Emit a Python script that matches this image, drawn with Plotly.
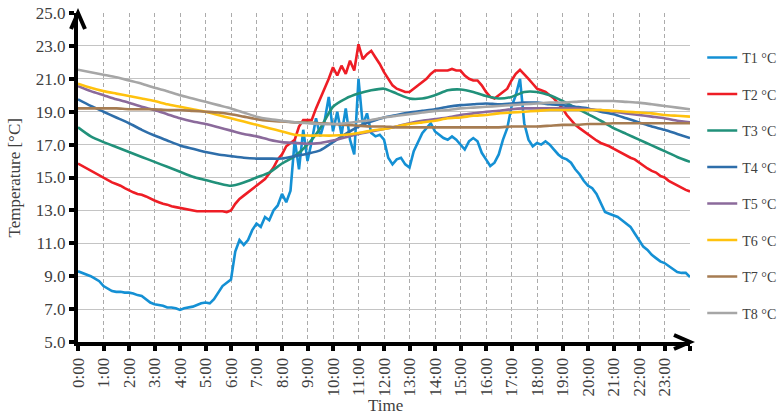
import plotly.graph_objects as go

# ---- data -------------------------------------------------------------
# T1 and T2 logged every 10 minutes, T3..T8 every 30 minutes (hours of day)
t_fine = [i / 6 for i in range(145)]
t_half = [i / 2 for i in range(49)]

T1 = [
    9.3, 9.2, 9.1, 9.0, 8.85, 8.7,
    8.4, 8.25, 8.1, 8.05, 8.05, 8.0,
    8.0, 7.95, 7.85, 7.8, 7.6, 7.4,
    7.3, 7.25, 7.2, 7.1, 7.1, 7.05,
    6.95, 7.05, 7.1, 7.15, 7.25, 7.35,
    7.4, 7.35, 7.6, 8.0, 8.4, 8.6,
    8.8, 10.5, 11.2, 10.9, 11.2, 11.8,
    12.2, 12.0, 12.6, 12.4, 13.0, 13.3,
    14.0, 13.5, 14.2, 17.3, 15.5, 17.9,
    16.0, 17.2, 18.6, 17.5, 18.4, 19.9,
    17.8, 19.0, 17.6, 19.2, 17.3, 16.4,
    21.0, 18.2, 18.9, 17.7, 17.5, 17.6,
    17.3, 16.2, 15.8, 16.1, 16.2, 15.8,
    15.6, 16.6, 17.2, 17.7, 18.0, 18.3,
    17.8, 17.6, 17.4, 17.3, 17.5, 17.3,
    17.0, 16.7, 17.2, 17.4, 17.2, 16.5,
    16.1, 15.7, 15.9, 16.4, 17.3, 18.0,
    19.3, 20.0, 21.0, 18.3, 17.3, 16.9,
    17.1, 17.0, 17.2, 17.0, 16.7, 16.4,
    16.2, 16.1, 15.9, 15.5, 15.2, 14.8,
    14.5, 14.35, 14.0, 13.4, 12.9, 12.8,
    12.7, 12.6, 12.4, 12.2, 12.0, 11.6,
    11.2, 10.8, 10.6, 10.3, 10.1, 9.9,
    9.8, 9.6, 9.4, 9.25, 9.2, 9.2,
    8.95,
]

T2 = [
    15.85, 15.7, 15.55, 15.45, 15.3, 15.15,
    15.0, 14.85, 14.7, 14.6, 14.5, 14.35,
    14.2, 14.1, 14.0, 13.95, 13.85, 13.7,
    13.6, 13.5, 13.4, 13.35, 13.25, 13.2,
    13.15, 13.1, 13.05, 13.0, 12.95, 12.95,
    12.95, 12.95, 12.95, 12.95, 12.95, 12.9,
    13.0, 13.4, 13.7, 13.9, 14.1, 14.3,
    14.5, 14.65, 14.9, 15.25, 15.6, 16.1,
    16.4, 16.9, 17.1, 17.3, 18.1, 18.5,
    18.5, 18.5, 19.2, 19.8, 20.3, 21.0,
    21.7, 21.2, 21.8, 21.3, 22.1, 21.5,
    23.1, 22.2, 22.5, 22.7, 22.3, 21.9,
    21.4, 21.0, 20.6, 20.4, 20.3, 20.2,
    20.2, 20.4, 20.6, 20.8, 21.0, 21.3,
    21.5, 21.5, 21.5, 21.5, 21.6, 21.5,
    21.5, 21.2, 21.0, 20.9, 20.9, 20.6,
    20.2, 19.9, 19.8, 20.0, 20.2, 20.4,
    20.9, 21.3, 21.55, 21.3, 21.0, 20.7,
    20.4, 20.3, 20.2, 20.0, 19.8, 19.5,
    19.2, 18.8, 18.5, 18.2, 18.0, 17.8,
    17.65, 17.4, 17.25, 17.1, 17.0, 16.9,
    16.75, 16.6, 16.45, 16.3, 16.2, 16.1,
    15.9, 15.7, 15.55, 15.4, 15.3, 15.1,
    15.0, 14.8, 14.65, 14.5, 14.35, 14.25,
    14.15,
]

T3 = [18.05, 17.5, 17.15, 16.85, 16.55, 16.25, 15.95, 15.65, 15.35, 15.05,
      14.85, 14.65, 14.5, 14.7, 15.0, 15.3, 15.85, 16.3, 17.0, 18.0,
      19.3, 19.8, 20.1, 20.3, 20.4, 20.1, 19.8, 19.8, 20.0, 20.3,
      20.35, 20.2, 19.95, 19.8, 19.9, 20.2, 20.2, 20.0, 19.65, 19.25,
      18.85, 18.45, 18.0, 17.65, 17.3, 16.95, 16.6, 16.25, 15.95]

T4 = [19.75, 19.35, 19.0, 18.65, 18.3, 17.9, 17.55, 17.25, 16.95, 16.75,
      16.55, 16.4, 16.3, 16.2, 16.15, 16.15, 16.15, 16.3, 16.45, 16.65,
      17.15, 17.65, 18.1, 18.4, 18.65, 18.8, 18.95, 19.05, 19.15, 19.3,
      19.4, 19.45, 19.5, 19.45, 19.5, 19.55, 19.55, 19.45, 19.4, 19.3,
      19.2, 19.0, 18.85, 18.6, 18.35, 18.1, 17.9, 17.65, 17.4]

T5 = [20.55, 20.25, 20.0, 19.75, 19.55, 19.3, 19.1, 18.85, 18.6, 18.4,
      18.25, 18.05, 17.85, 17.65, 17.5, 17.3, 17.15, 17.1, 17.05, 17.1,
      17.25, 17.45, 17.65, 17.8, 17.95, 18.1, 18.3, 18.45, 18.55, 18.65,
      18.8, 18.9, 19.0, 19.05, 19.15, 19.2, 19.2, 19.2, 19.2, 19.2,
      19.15, 19.1, 19.0, 18.9, 18.8, 18.7, 18.6, 18.45, 18.35]

T6 = [20.7, 20.45, 20.25, 20.1, 19.95, 19.8, 19.65, 19.45, 19.3, 19.15,
      19.0, 18.8, 18.6, 18.4, 18.2, 18.0, 17.8, 17.6, 17.55, 17.55,
      17.55, 17.6, 17.7, 17.85, 17.95, 18.1, 18.25, 18.35, 18.45, 18.6,
      18.65, 18.75, 18.8, 18.9, 18.95, 19.0, 19.05, 19.1, 19.1, 19.1,
      19.1, 19.1, 19.05, 19.0, 18.95, 18.9, 18.8, 18.75, 18.7]

T7 = [19.2, 19.2, 19.2, 19.2, 19.15, 19.15, 19.15, 19.1, 19.1, 19.05,
      19.0, 18.95, 18.85, 18.7, 18.55, 18.45, 18.4, 18.35, 18.35, 18.3,
      18.25, 18.2, 18.15, 18.1, 18.1, 18.05, 18.05, 18.05, 18.05, 18.05,
      18.05, 18.05, 18.05, 18.05, 18.1, 18.1, 18.1, 18.15, 18.2, 18.2,
      18.25, 18.25, 18.3, 18.3, 18.3, 18.3, 18.3, 18.3, 18.3]

T8 = [21.55, 21.4, 21.25, 21.1, 20.9, 20.7, 20.45, 20.25, 20.0, 19.8,
      19.6, 19.4, 19.2, 18.95, 18.7, 18.55, 18.45, 18.35, 18.3, 18.25,
      18.25, 18.3, 18.4, 18.5, 18.65, 18.75, 18.85, 18.95, 19.05, 19.1,
      19.2, 19.25, 19.3, 19.35, 19.4, 19.45, 19.5, 19.55, 19.55, 19.6,
      19.65, 19.65, 19.65, 19.6, 19.55, 19.45, 19.35, 19.25, 19.15]

series_names = ["T1 °C", "T2 °C", "T3 °C", "T4 °C", "T5 °C", "T6 °C", "T7 °C", "T8 °C"]
hour_ticks = list(range(25))
hour_labels = [f"{h}:00" for h in range(24)] + [""]
temp_ticks = [5, 7, 9, 11, 13, 15, 17, 19, 21, 23, 25]
temp_labels = [f"{v:.1f}" for v in temp_ticks]

# ---- styling ------------------------------------------------------------
colors = ["#1490D4", "#EE1D25", "#21917A", "#2E6EAA", "#8B6A9B", "#FFC20E", "#A67C52", "#A6A6A6"]
serif = "Liberation Serif, Times New Roman, serif"
text_col = "#404040"

fig = go.Figure()
all_series = [(t_fine, T1), (t_fine, T2), (t_half, T3), (t_half, T4),
              (t_half, T5), (t_half, T6), (t_half, T7), (t_half, T8)]
for i, ((tx, ty), name) in enumerate(zip(all_series, series_names)):
    smooth = tx is t_half
    fig.add_trace(go.Scatter(
        x=tx, y=ty, name=name, mode="lines", legendgroup=name,
        line=dict(color=colors[i], width=2.6,
                  shape="spline" if smooth else "linear",
                  **({"smoothing": 0.6} if smooth else {})),
    ))

fig.update_layout(
    width=782, height=418,
    margin=dict(l=78, r=92, t=13, b=76, autoexpand=False),
    paper_bgcolor="white", plot_bgcolor="white",
    font=dict(family=serif, size=17, color=text_col),
    showlegend=True,
    legend=dict(x=1.02, xanchor="left", y=0.912, yanchor="top",
                font=dict(family=serif, size=14, color=text_col),
                tracegroupgap=15.3, bgcolor="rgba(0,0,0,0)"),
    xaxis=dict(
        range=[0, 24], tickvals=hour_ticks, ticktext=hour_labels, tickangle=-90,
        showgrid=True, gridcolor="#ABABAB", gridwidth=1, griddash="4px,3px",
        showline=True, linecolor="black", linewidth=4,
        ticks="outside", ticklen=5, tickwidth=4, tickcolor="black",
        zeroline=False, automargin=False,
    ),
    yaxis=dict(
        range=[5, 25], tickvals=temp_ticks, ticktext=temp_labels,
        showgrid=True, gridcolor="#C4C4C4", gridwidth=1.2,
        showline=True, linecolor="black", linewidth=4,
        ticks="outside", ticklen=5, tickwidth=4, tickcolor="black",
        zeroline=False, automargin=False,
    ),
    annotations=[
        dict(text="Time", xref="paper", yref="paper", x=0.503, y=-0.192,
             xanchor="center", yanchor="middle", showarrow=False,
             font=dict(family=serif, size=17, color=text_col)),
        dict(text="Temperature [°C]", xref="paper", yref="paper", x=-0.103, y=0.5,
             xanchor="center", yanchor="middle", textangle=-90, showarrow=False,
             font=dict(family=serif, size=17, color=text_col)),
    ],
)

# arrowheads at the ends of both axes
fig.add_shape(type="path", xref="paper", yref="paper", xsizemode="pixel", ysizemode="pixel",
              xanchor=0, yanchor=1, path="M-7,-16 L0,0 L7,-16",
              line=dict(color="black", width=4))
fig.add_shape(type="path", xref="paper", yref="paper", xsizemode="pixel", ysizemode="pixel",
              xanchor=1, yanchor=0, path="M-16,7 L0,0 L-16,-7",
              line=dict(color="black", width=4))

fig.write_html("out.html")
